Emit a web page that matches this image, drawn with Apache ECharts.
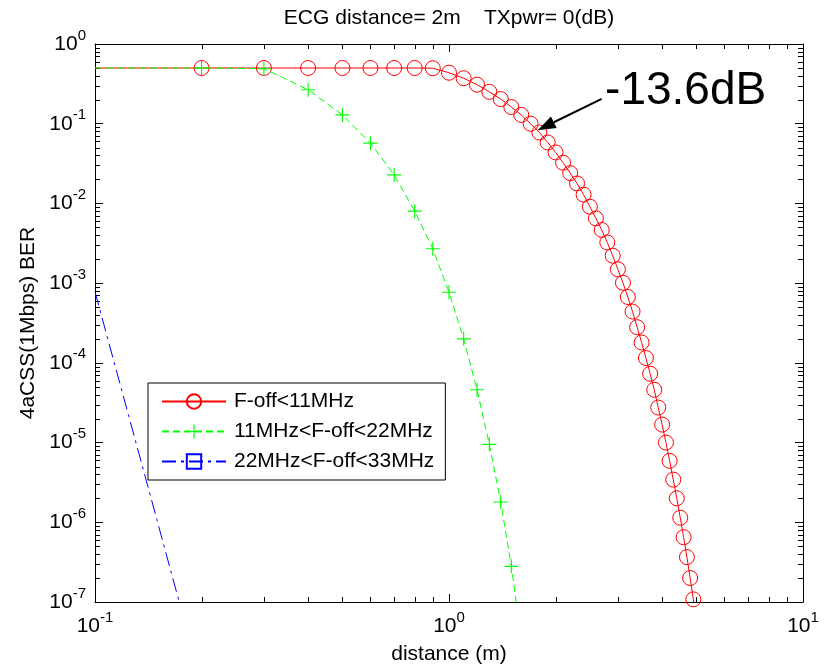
<!DOCTYPE html>
<html><head><meta charset="utf-8">
<script src="https://cdn.jsdelivr.net/npm/echarts@6/dist/echarts.min.js"></script>
<style>html,body{margin:0;padding:0;background:#fff}#c{width:831px;height:667px}</style>
</head><body><div id="c"></div>
<script>
const FONT = "'Liberation Sans', Arial, Helvetica, sans-serif";
const titleText = 'ECG distance= 2m    TXpwr= 0(dB)';
const xName = 'distance (m)';
const yName = '4aCSS(1Mbps) BER';
const seriesNames = ['F-off<11MHz', '11MHz<F-off<22MHz', '22MHz<F-off<33MHz'];
const xRange = [0.1, 10];
const yRange = [1e-7, 1];

const redDistance = [0.1, 0.2, 0.3, 0.4, 0.5, 0.6, 0.7, 0.8, 0.9, 1.0,
  1.1, 1.2, 1.3, 1.4, 1.5, 1.6, 1.7, 1.8, 1.9, 2.0,
  2.1, 2.2, 2.3, 2.4, 2.5, 2.6, 2.7, 2.8, 2.9, 3.0,
  3.1, 3.2, 3.3, 3.4, 3.5, 3.6, 3.7, 3.8, 3.9, 4.0,
  4.1, 4.2, 4.3, 4.4, 4.5, 4.6, 4.7, 4.8, 4.9, 5.0];
const redBER = [0.5, 0.5, 0.5, 0.5, 0.5, 0.5, 0.5, 0.5, 0.497, 0.436,
  0.372, 0.309, 0.251, 0.204, 0.162, 0.129, 0.1, 0.0776, 0.0582, 0.0437,
  0.0324, 0.024, 0.0178, 0.0129, 9.1e-3, 6.5e-3, 4.65e-3, 3.24e-3, 2.21e-3, 1.49e-3,
  1.01e-3, 6.7e-4, 4.4e-4, 2.8e-4, 1.8e-4, 1.15e-4, 7.3e-5, 4.6e-5, 2.75e-5, 1.68e-5,
  1.0e-5, 5.9e-6, 3.43e-6, 2.0e-6, 1.14e-6, 6.5e-7, 3.66e-7, 2.0e-7, 1.08e-7, 5.8e-8];

const greenDistance = [0.1, 0.2, 0.3, 0.4, 0.5, 0.6, 0.7, 0.8, 0.9, 1.0, 1.1, 1.2, 1.3, 1.4, 1.5, 1.6];
const greenBER = [0.5, 0.5, 0.49, 0.267, 0.129, 0.057, 0.0228, 0.008, 2.7e-3, 7.7e-4, 2.0e-4, 4.6e-5, 9.5e-6, 1.8e-6, 2.8e-7, 3.5e-8];

const blueDistance = [0.1, 0.2];
const blueBER = [7.8e-4, 9.3e-9];

const annotationText = '-13.6dB';
const arrowTip = [1.78, 0.083];
const arrowTail = [2.70, 0.205];
const annotationAnchor = [2.76, 0.255];

function buildData(xs, ys) {
  return xs.map(function (x, i) {
    const item = { value: [x, ys[i]] };
    if (i === 0 || i === xs.length - 1) item.symbol = 'none';
    return item;
  });
}

// minor tick values (2..9 x 10^k) computed from the axis ranges
const minorData = [];
for (let k = Math.round(Math.log10(xRange[0])); k < Math.round(Math.log10(xRange[1])); k++) {
  for (let m = 2; m <= 9; m++) minorData.push([m * Math.pow(10, k), 1, 0]);
}
for (let k = Math.round(Math.log10(yRange[0])); k < Math.round(Math.log10(yRange[1])); k++) {
  for (let m = 2; m <= 9; m++) minorData.push([1, m * Math.pow(10, k), 1]);
}

const richLabel = {
  b: { fontSize: 21, fontFamily: FONT, color: '#000' },
  e: { fontSize: 15, fontFamily: FONT, color: '#000', padding: [0, 0, 17, 0] }
};
function powLabel(v) {
  const e = Math.round(Math.log10(v));
  return '{b|10}{e|' + e + '}';
}

const chart = echarts.init(document.getElementById('c'), null, { renderer: 'canvas' });

const plusPath = 'path://M4.6,0 H5.4 V4.6 H10 V5.4 H5.4 V10 H4.6 V5.4 H0 V4.6 H4.6 Z';

const option = {
  animation: false,
  backgroundColor: '#fff',
  title: {
    text: titleText, left: 449, top: 8, textAlign: 'center', padding: 0,
    textStyle: { fontSize: 21, fontWeight: 'normal', color: '#000', fontFamily: FONT }
  },
  grid: { left: 95, right: 28, top: 44, bottom: 65, show: false, outerBoundsMode: 'none', containLabel: false },
  legend: {
    data: seriesNames,
    orient: 'vertical', left: 148, top: 383,
    padding: [8, 11, 8, 13],
    itemWidth: 64, itemHeight: 18, itemGap: 9,
    borderColor: '#000', borderWidth: 1, borderRadius: 0, backgroundColor: '#fff',
    textStyle: { fontSize: 21, fontFamily: FONT, color: '#000', lineHeight: 21, padding: [0, 0, 0, 3] },
    selectedMode: false
  },
  xAxis: [{
    type: 'log', logBase: 10, min: xRange[0], max: xRange[1], position: 'bottom',
    name: xName, nameLocation: 'middle', nameGap: 42,
    nameTextStyle: { fontSize: 21, fontFamily: FONT, color: '#000' },
    axisLine: { show: true, lineStyle: { color: '#000', width: 1 } },
    axisTick: { show: true, inside: true, length: 8, lineStyle: { color: '#000' } },
    axisLabel: { show: true, margin: 8, formatter: powLabel, rich: richLabel, color: '#000' },
    splitLine: { show: false }, minorTick: { show: false }
  }, {
    type: 'log', logBase: 10, min: xRange[0], max: xRange[1], position: 'top',
    axisLine: { show: true, onZero: false, lineStyle: { color: '#000', width: 1 } },
    axisTick: { show: true, inside: true, length: 8, lineStyle: { color: '#000' } },
    axisLabel: { show: false }, splitLine: { show: false }
  }],
  yAxis: [{
    type: 'log', logBase: 10, min: yRange[0], max: yRange[1], position: 'left',
    name: yName, nameLocation: 'middle', nameGap: 43,
    nameTextStyle: { fontSize: 21, fontFamily: FONT, color: '#000' },
    axisLine: { show: true, lineStyle: { color: '#000', width: 1 } },
    axisTick: { show: true, inside: true, length: 8, lineStyle: { color: '#000' } },
    axisLabel: { show: true, margin: 9, formatter: powLabel, rich: richLabel, color: '#000' },
    splitLine: { show: false }
  }, {
    type: 'log', logBase: 10, min: yRange[0], max: yRange[1], position: 'right',
    axisLine: { show: true, onZero: false, lineStyle: { color: '#000', width: 1 } },
    axisTick: { show: true, inside: true, length: 8, lineStyle: { color: '#000' } },
    axisLabel: { show: false }, splitLine: { show: false }
  }],
  series: [{
    name: seriesNames[0], type: 'line', data: buildData(redDistance, redBER),
    symbol: 'circle', symbolSize: 15,
    itemStyle: { color: 'rgba(255,255,255,0)', borderColor: '#ff0000', borderWidth: 1 },
    lineStyle: { color: '#ff0000', width: 1 },
    emphasis: { disabled: true }, z: 3
  }, {
    name: seriesNames[1], type: 'line', data: buildData(greenDistance, greenBER),
    symbol: plusPath, symbolSize: 14,
    itemStyle: { color: '#00ff00', borderWidth: 0 },
    lineStyle: { color: '#00ff00', width: 1, type: [7, 4] },
    emphasis: { disabled: true }, z: 4
  }, {
    name: seriesNames[2], type: 'line', data: buildData(blueDistance, blueBER),
    symbol: 'rect', symbolSize: 14,
    itemStyle: { color: 'rgba(255,255,255,0)', borderColor: '#0000ff', borderWidth: 1 },
    lineStyle: { color: '#0000ff', width: 1, type: [14, 5, 3, 5] },
    emphasis: { disabled: true }, z: 5
  }, {
    name: 'minorTicks', type: 'custom', data: minorData, clip: false, silent: true,
    encode: { x: 0, y: 1 },
    renderItem: function (params, api) {
      const cs = params.coordSys;
      const p = api.coord([api.value(0), api.value(1)]);
      const kind = api.value(2);
      const st = { stroke: '#000', lineWidth: 1 };
      if (kind === 0) {
        const x = Math.round(p[0]) + 0.5;
        return { type: 'group', children: [
          { type: 'line', shape: { x1: x, y1: cs.y + cs.height, x2: x, y2: cs.y + cs.height - 5 }, style: st },
          { type: 'line', shape: { x1: x, y1: cs.y, x2: x, y2: cs.y + 5 }, style: st }
        ] };
      }
      const y = Math.round(p[1]) + 0.5;
      return { type: 'group', children: [
        { type: 'line', shape: { x1: cs.x, y1: y, x2: cs.x + 5, y2: y }, style: st },
        { type: 'line', shape: { x1: cs.x + cs.width, y1: y, x2: cs.x + cs.width - 5, y2: y }, style: st }
      ] };
    },
    z: 2
  }]
};
chart.setOption(option);

// annotation placed from data coordinates
const tip = chart.convertToPixel({ gridIndex: 0 }, arrowTip);
const tail = chart.convertToPixel({ gridIndex: 0 }, arrowTail);
const anc = chart.convertToPixel({ gridIndex: 0 }, annotationAnchor);
const dx = tip[0] - tail[0], dy = tip[1] - tail[1];
const len = Math.sqrt(dx * dx + dy * dy);
const ux = dx / len, uy = dy / len;
const headLen = 18, headHalf = 6.5;
const bx = tip[0] - ux * headLen, by = tip[1] - uy * headLen;
chart.setOption({
  graphic: [
    { type: 'line', z: 100, shape: { x1: tail[0], y1: tail[1], x2: bx, y2: by }, style: { stroke: '#000', lineWidth: 2 } },
    { type: 'polygon', z: 100, shape: { points: [[tip[0], tip[1]], [bx - uy * headHalf, by + ux * headHalf], [bx + uy * headHalf, by - ux * headHalf]] }, style: { fill: '#000' } },
    { type: 'text', z: 100, x: anc[0], y: anc[1], style: { text: annotationText, fontSize: 46, fontFamily: FONT, fill: '#000', textAlign: 'left', textVerticalAlign: 'middle' } }
  ]
});
</script>
</body></html>
